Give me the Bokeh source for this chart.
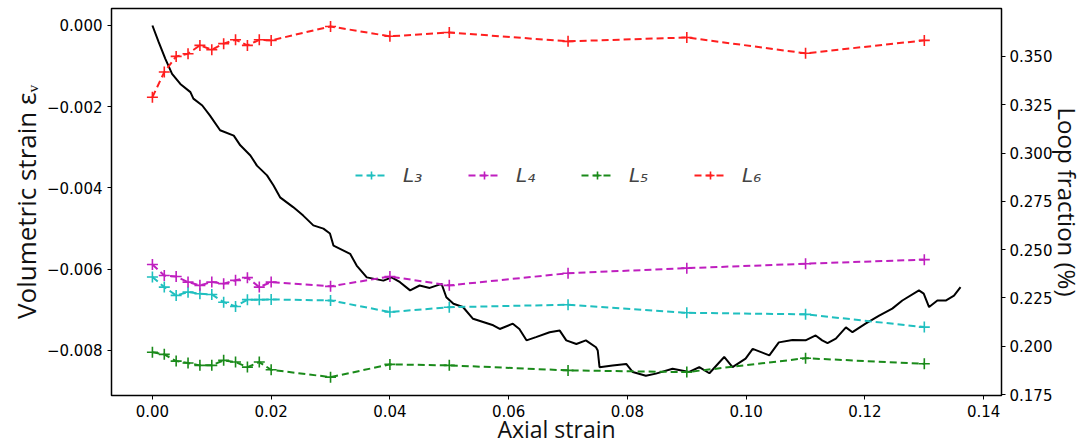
from bokeh.plotting import figure
from bokeh.models import Range1d, LinearAxis, FixedTicker, CustomJSTickFormatter, Legend
from bokeh.embed import file_html
from bokeh.resources import INLINE

# ---- data ----
sample_strain = [0.0, 0.002, 0.004, 0.006, 0.008, 0.010, 0.012, 0.014, 0.016, 0.018, 0.020,
                 0.03, 0.04, 0.05, 0.07, 0.09, 0.11, 0.13]
L3 = [0.2358, 0.2306, 0.2263, 0.2280, 0.2272, 0.2268, 0.2228, 0.2206, 0.2241, 0.2241, 0.2242,
      0.2237, 0.2177, 0.2202, 0.2215, 0.2173, 0.2165, 0.2099]
L4 = [0.2423, 0.2366, 0.2361, 0.2332, 0.2315, 0.2332, 0.2324, 0.2341, 0.2355, 0.2306, 0.2332,
      0.2310, 0.2361, 0.2315, 0.2378, 0.2404, 0.2427, 0.2448]
L5 = [0.1969, 0.1958, 0.1923, 0.1913, 0.1901, 0.1901, 0.1927, 0.1918, 0.1892, 0.1918, 0.1878,
      0.1840, 0.1906, 0.1901, 0.1875, 0.1866, 0.1938, 0.1909]
L6 = [0.3289, 0.3419, 0.3500, 0.3514, 0.3557, 0.3535, 0.3566, 0.3586, 0.3557, 0.3586, 0.3583,
      0.3655, 0.3604, 0.3624, 0.3578, 0.3598, 0.3516, 0.3583]

axial = [0.0, 0.00106, 0.00218, 0.00331, 0.0047, 0.0064, 0.0069, 0.0084, 0.0097, 0.0114, 0.0137,
         0.0148, 0.0165, 0.0176, 0.0193, 0.0204, 0.0215, 0.0237, 0.0254, 0.0271, 0.0288, 0.0299,
         0.0305, 0.0333, 0.0344, 0.0361, 0.0389, 0.0403, 0.0417, 0.0434, 0.0450, 0.0467, 0.0487,
         0.0495, 0.0507, 0.0523, 0.0540, 0.0574, 0.0585, 0.0607, 0.0618, 0.0630, 0.0646, 0.0669,
         0.0686, 0.0697, 0.0714, 0.0730, 0.0747, 0.0750, 0.0753, 0.0775, 0.0798, 0.0809, 0.0831,
         0.0848, 0.0876, 0.0904, 0.0921, 0.0938, 0.0963, 0.0977, 0.0999, 0.1011, 0.1039, 0.1055,
         0.1078, 0.1100, 0.1117, 0.1128, 0.1137, 0.1151, 0.1168, 0.1179, 0.1201, 0.1224, 0.1246,
         0.1263, 0.1291, 0.1299, 0.1308, 0.1322, 0.1336, 0.1350, 0.1361]
vol_strain = [0.0, -0.00041, -0.00082, -0.00119, -0.00144, -0.00164, -0.00180, -0.00197, -0.00222,
              -0.00258, -0.00271, -0.00295, -0.00320, -0.00345, -0.00369, -0.00394, -0.00423,
              -0.00447, -0.00468, -0.00492, -0.00500, -0.00512, -0.00542, -0.00562, -0.00591,
              -0.00620, -0.00628, -0.00620, -0.00632, -0.00652, -0.00640, -0.00646, -0.00636,
              -0.00669, -0.00685, -0.00693, -0.00722, -0.00738, -0.00747, -0.00734, -0.00747,
              -0.00775, -0.00767, -0.00755, -0.00751, -0.00775, -0.00784, -0.00775, -0.00792,
              -0.00800, -0.00841, -0.00837, -0.00833, -0.00853, -0.00862, -0.00857, -0.00845,
              -0.00853, -0.00841, -0.00856, -0.00816, -0.00841, -0.00820, -0.00796, -0.00812,
              -0.00780, -0.00774, -0.00775, -0.00763, -0.00775, -0.00782, -0.00771, -0.00743,
              -0.00755, -0.00734, -0.00714, -0.00697, -0.00677, -0.00652, -0.00660, -0.00693,
              -0.00677, -0.00677, -0.00665, -0.00644]

left_ticks = [0.0, -0.002, -0.004, -0.006, -0.008]
right_ticks = [0.175, 0.200, 0.225, 0.250, 0.275, 0.300, 0.325, 0.350]
x_ticks = [0.0, 0.02, 0.04, 0.06, 0.08, 0.10, 0.12, 0.14]

series = [("L₃", L3, "#1fbfbf"), ("L₄", L4, "#bf1fbf"), ("L₅", L5, "#1a8a1a"), ("L₆", L6, "#ff1f1f")]

# ---- figure ----
p = figure(width=1087, height=447, output_backend="svg", toolbar_location=None,
           x_range=Range1d(-0.00689, 0.1430), y_range=Range1d(-0.009108, 0.000418),
           min_border_left=111, min_border_right=84, min_border_top=8, min_border_bottom=52)
p.extra_y_ranges = {"right": Range1d(0.1745, 0.3748)}
p.grid.visible = False
p.outline_line_color = "black"
p.outline_line_width = 1.5
p.background_fill_color = "white"
p.border_fill_color = "white"

p.line(axial, vol_strain, line_color="black", line_width=2)

items = []
for name, vals, col in series:
    r1 = p.line(sample_strain, vals, y_range_name="right", line_color=col, line_width=2,
                line_dash="7 4")
    r2 = p.scatter(sample_strain, vals, y_range_name="right", marker="cross", size=11,
                   line_color=col, line_width=1.6)
    items.append((name, [r1, r2]))

legend = Legend(items=items, orientation="horizontal", location=(244, 208),
                border_line_color=None, background_fill_alpha=0,
                label_text_font="DejaVu Sans", label_text_font_style="italic",
                label_text_font_size="20px", glyph_width=32, label_standoff=16, spacing=45,
                padding=5)
p.add_layout(legend, "center")

def style_axis(ax):
    ax.major_label_text_font = "DejaVu Sans"
    ax.major_label_text_font_size = "15px"
    ax.major_label_text_color = "black"
    ax.axis_label_text_font = "Open Sans"
    ax.axis_label_text_font_style = "normal"
    ax.axis_label_text_color = "#111111"
    ax.major_tick_in = 0
    ax.major_tick_out = 4
    ax.minor_tick_line_color = None
    ax.major_tick_line_color = "black"
    ax.axis_line_color = "black"
    ax.major_label_standoff = 6
    ax.axis_label_standoff = 3

xa = p.xaxis[0]
xa.ticker = FixedTicker(ticks=x_ticks)
xa.formatter = CustomJSTickFormatter(code="return tick.toFixed(2);")
xa.axis_label = "Axial strain"
style_axis(xa)
xa.axis_label_text_font_size = "23px"
xa.major_label_standoff = 5
xa.axis_label_standoff = -7

ya = p.yaxis[0]
ya.ticker = FixedTicker(ticks=left_ticks)
ya.formatter = CustomJSTickFormatter(code="return tick.toFixed(3).replace('-', '\u2212');")
ya.axis_label = "Volumetric strain εᵥ"
style_axis(ya)
ya.axis_label_text_font_size = "26px"
ya.major_label_standoff = 5
ya.axis_label_standoff = 0

ra = LinearAxis(y_range_name="right", ticker=FixedTicker(ticks=right_ticks),
                formatter=CustomJSTickFormatter(code="return tick.toFixed(3);"),
                axis_label="Loop fraction (%)")
style_axis(ra)
ra.major_label_standoff = 4
ra.axis_label_text_font_size = "24px"
ra.axis_label_standoff = -4
p.add_layout(ra, "right")

open("out.html", "w").write(file_html(p, INLINE))
